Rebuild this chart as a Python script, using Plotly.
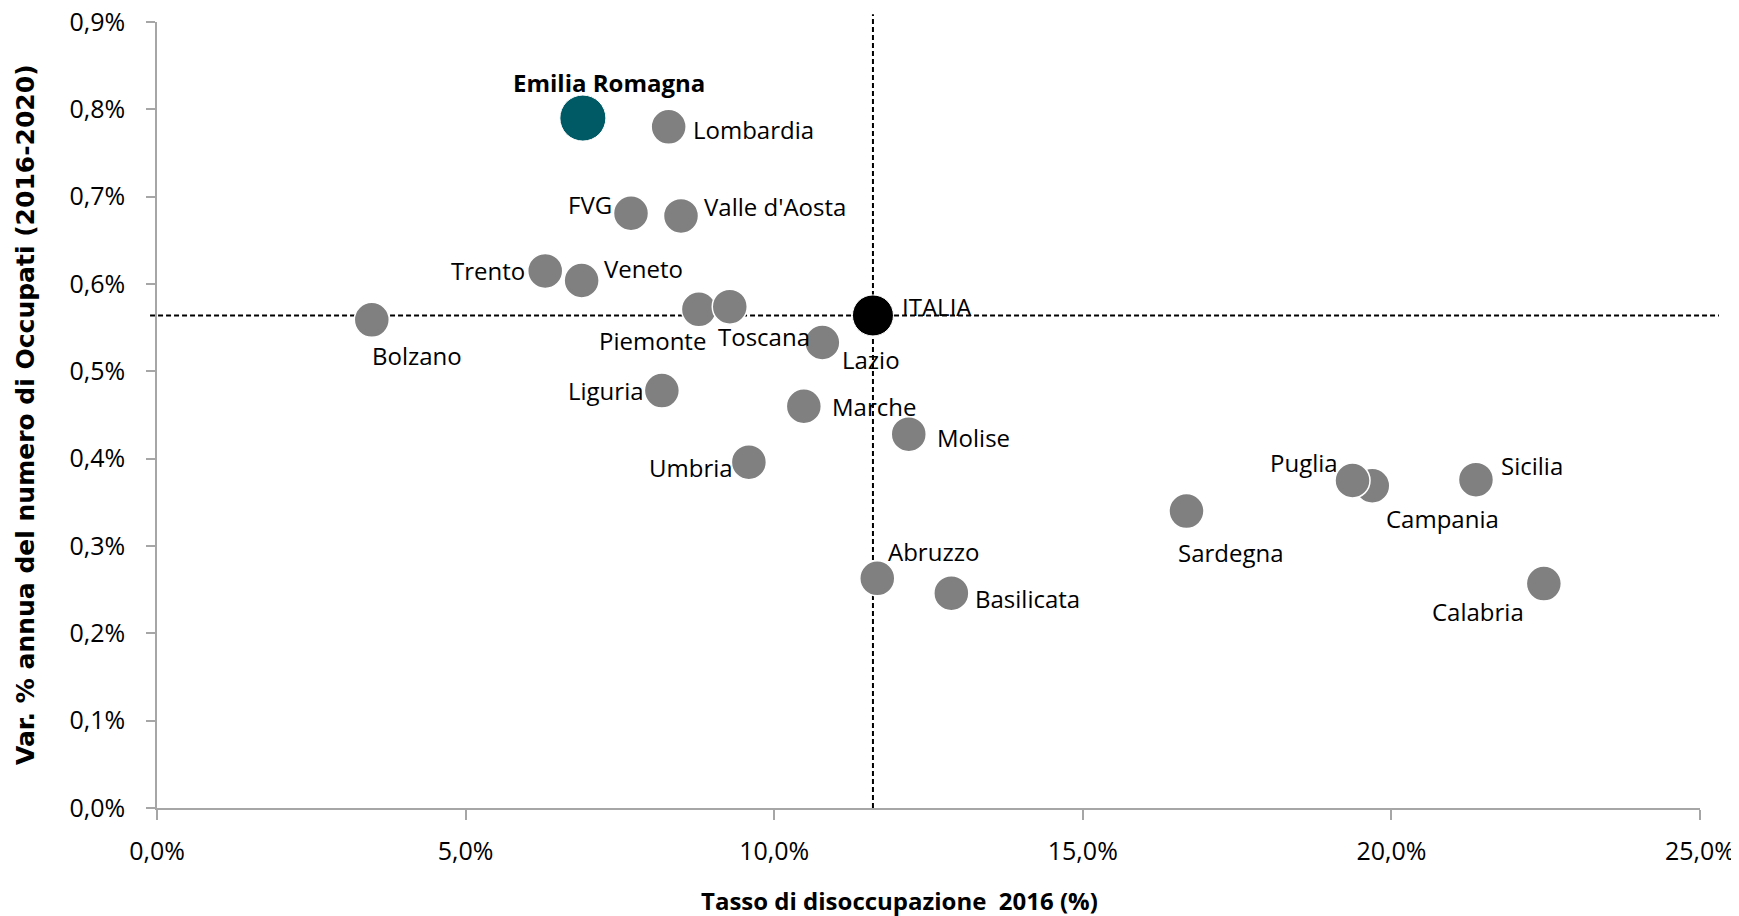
import plotly.graph_objects as go

# ---- data ----
regions = ["Bolzano", "Trento", "Veneto", "FVG", "Valle d'Aosta", "Lombardia",
           "Piemonte", "Toscana", "Liguria", "Lazio", "Marche", "Umbria",
           "Molise", "Abruzzo", "Basilicata", "Sardegna", "Campania", "Puglia",
           "Sicilia", "Calabria"]
unemployment_2016 = [3.48, 6.29, 6.88, 7.68, 8.49, 8.29,
                     8.78, 9.28, 8.18, 10.78, 10.48, 9.59,
                     12.18, 11.67, 12.87, 16.68, 19.69, 19.37,
                     21.37, 22.47]
employment_growth = [0.559, 0.615, 0.604, 0.681, 0.678, 0.780,
                     0.571, 0.574, 0.478, 0.533, 0.460, 0.396,
                     0.428, 0.263, 0.246, 0.340, 0.369, 0.375,
                     0.376, 0.257]

focus_name = "Emilia Romagna"
focus_x = 6.90
focus_y = 0.790

italy_name = "ITALIA"
italy_x = 11.60
italy_y = 0.564

x_ticks = [0, 5, 10, 15, 20, 25]
x_tick_labels = ["0,0%", "5,0%", "10,0%", "15,0%", "20,0%", "25,0%"]
y_ticks = [0.0, 0.1, 0.2, 0.3, 0.4, 0.5, 0.6, 0.7, 0.8, 0.9]
y_tick_labels = ["0,0%", "0,1%", "0,2%", "0,3%", "0,4%", "0,5%", "0,6%", "0,7%", "0,8%", "0,9%"]

x_title = "Tasso di disoccupazione  2016 (%)"
y_title = "Var. % annua del numero di Occupati (2016-2020)"

# ---- label placement (style only): xanchor, xshift, yshift ----
label_pos = {
    "Lombardia": ("left", 22, -3),
    "FVG": ("right", -17, 9),
    "Valle d'Aosta": ("left", 21, 9),
    "Trento": ("right", -18, 0),
    "Veneto": ("left", 20, 12),
    "Bolzano": ("left", -2, -36),
    "Piemonte": ("right", 9, -31),
    "Toscana": ("left", -14, -30),
    "Lazio": ("left", 18, -17),
    "Marche": ("left", 26, 0),
    "Molise": ("left", 26, -3),
    "Abruzzo": ("left", 9, 27),
    "Basilicata": ("left", 22, -5),
    "Liguria": ("right", -16, 0),
    "Umbria": ("right", -14, -5),
    "Puglia": ("right", -13, 18),
    "Campania": ("left", 12, -33),
    "Sicilia": ("left", 23, 14),
    "Sardegna": ("left", -10, -41),
    "Calabria": ("right", -18, -28),
}

FONT = "'Open Sans', Lato, sans-serif"
GREY = "#808080"
AXIS = "#a6a6a6"
LBL = 24

fig = go.Figure()

fig.add_trace(go.Scatter(
    x=unemployment_2016, y=employment_growth, mode="markers",
    marker=dict(size=35, color=GREY, line=dict(color="white", width=1.5)),
    cliponaxis=False, hoverinfo="text", text=regions, showlegend=False))

fig.add_trace(go.Scatter(
    x=[italy_x], y=[italy_y], mode="markers",
    marker=dict(size=41, color="#000000", line=dict(color="white", width=1)),
    cliponaxis=False, hoverinfo="text", text=[italy_name], showlegend=False))

fig.add_trace(go.Scatter(
    x=[focus_x], y=[focus_y], mode="markers",
    marker=dict(size=46, color="#005a66", line=dict(color="white", width=1)),
    cliponaxis=False, hoverinfo="text", text=[focus_name], showlegend=False))

annotations = []
for name, xv, yv in zip(regions, unemployment_2016, employment_growth):
    anc, dx, dy = label_pos[name]
    annotations.append(dict(x=xv, y=yv, xref="x", yref="y", text=name,
                            showarrow=False, xanchor=anc, yanchor="middle",
                            xshift=dx, yshift=dy,
                            font=dict(family=FONT, size=LBL, color="#000000")))
annotations.append(dict(x=italy_x, y=italy_y, xref="x", yref="y", text=italy_name,
                        showarrow=False, xanchor="left", yanchor="middle",
                        xshift=27, yshift=9,
                        font=dict(family=FONT, size=LBL, color="#000000")))
annotations.append(dict(x=focus_x, y=focus_y, xref="x", yref="y",
                        text="<b>" + focus_name + "</b>",
                        showarrow=False, xanchor="center", yanchor="middle",
                        xshift=26, yshift=36,
                        font=dict(family=FONT, size=LBL, color="#000000")))
# axis titles
annotations.append(dict(x=0.5, y=0, xref="paper", yref="paper",
                        text="<b>" + x_title + "</b>", showarrow=False,
                        xanchor="center", yanchor="middle", xshift=-29, yshift=-92,
                        font=dict(family=FONT, size=24, color="#000000")))
annotations.append(dict(x=0, y=0.5, xref="paper", yref="paper",
                        text="<b>" + y_title + "</b>", showarrow=False, textangle=-90,
                        xanchor="center", yanchor="middle", xshift=-132, yshift=0,
                        font=dict(family="DejaVu Sans", size=25, color="#000000")))

shapes = [
    dict(type="line", xref="paper", yref="y", x0=-0.0045, x1=1.0123,
         y0=italy_y, y1=italy_y, layer="below",
         line=dict(color="#000000", width=2, dash="5px,3px")),
    dict(type="line", xref="x", yref="paper", x0=italy_x, x1=italy_x,
         y0=0, y1=1.010, layer="below",
         line=dict(color="#000000", width=2, dash="5px,3px")),
]

# the page places the figure 8px in from the top-left corner
fig.update_layout(
    width=1731, height=908,
    margin=dict(l=149, r=39, t=14, b=108, autoexpand=False),
    paper_bgcolor="white", plot_bgcolor="white",
    font=dict(family=FONT, size=24, color="#000000"),
    annotations=annotations, shapes=shapes, showlegend=False,
    xaxis=dict(range=[0, 25], tickmode="array", tickvals=x_ticks, ticktext=x_tick_labels,
               showgrid=False, zeroline=False, showline=True, linecolor=AXIS, linewidth=1.5,
               ticks="outside", ticklen=10, tickcolor=AXIS, tickwidth=1.5,
               ticklabelstandoff=10, automargin=False, ticklabeloverflow="allow",
               tickfont=dict(family=FONT, size=25, color="#000000")),
    yaxis=dict(range=[0, 0.9], tickmode="array", tickvals=y_ticks, ticktext=y_tick_labels,
               showgrid=False, zeroline=False, showline=True, linecolor=AXIS, linewidth=1.5,
               ticks="outside", ticklen=9, tickcolor=AXIS, tickwidth=1.5,
               ticklabelstandoff=16, automargin=False, ticklabeloverflow="allow",
               tickfont=dict(family=FONT, size=25, color="#000000")),
)

fig.write_html("out.html")
